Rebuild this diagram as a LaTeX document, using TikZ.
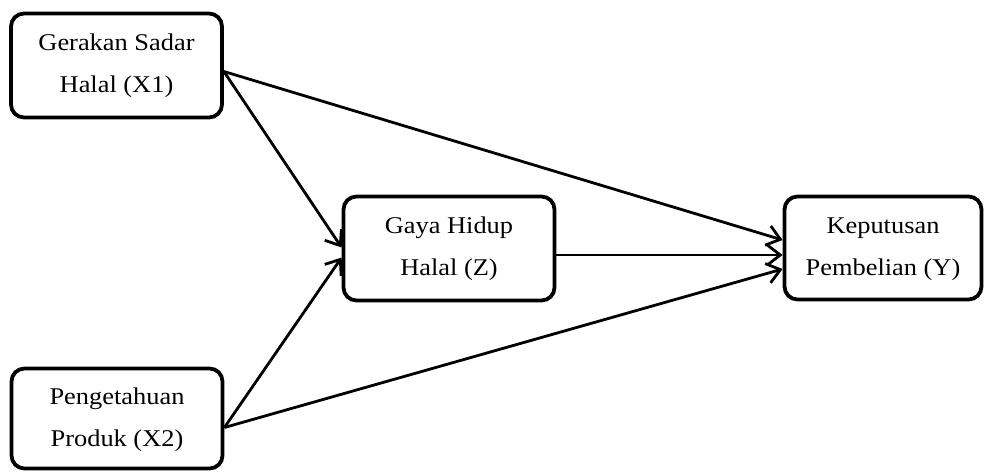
\documentclass[tikz,border=0pt]{standalone}
\usepackage{fontspec}
\setmainfont{Liberation Serif}[FakeStretch=1.1]
\usetikzlibrary{arrows.meta}
\tikzset{
  box/.style={draw, line width=3.8pt, rounded corners=13pt, inner sep=0pt},
  lbl/.style={align=center, font=\fontsize{24}{42}\selectfont, inner sep=0pt},
  conn/.style={line width=2.8pt, -{Straight Barb[length=13pt,width=20pt,line width=2.8pt]}}
}
\begin{document}
\begin{tikzpicture}[x=1pt,y=-1pt]
\useasboundingbox (0,0) rectangle (987,472);
\node[box, minimum width=211pt, minimum height=104pt] (x1) at (116.5,65.5) {};
\node[box, minimum width=211pt, minimum height=104pt] (z) at (449,248.5) {};
\node[box, minimum width=197pt, minimum height=103pt] (y) at (883,248) {};
\node[box, minimum width=211pt, minimum height=100pt] (x2) at (117,418.5) {};
\node[lbl] (tx1) at (116.5,66) {Gerakan Sadar\\Halal (X1)};
\node[lbl] (tz) at (449,249) {Gaya Hidup\\Halal (Z)};
\node[lbl] (ty) at (883,249) {Keputusan\\Pembelian (Y)};
\node[lbl] (tx2) at (117,420) {Pengetahuan\\Produk (X2)};
\coordinate (a1) at ([yshift=-6pt]x1.east);
\coordinate (a2) at ([yshift=-9pt]x2.east);
\draw[conn] (a1) -- ([yshift=8pt]y.west);
\draw[conn] (a1) -- ([yshift=1pt]z.west);
\draw[conn] (a2) -- ([yshift=-9pt]z.west);
\draw[conn] (a2) -- ([yshift=-21pt]y.west);
\draw[conn] ([yshift=-6.5pt]z.east) -- ([yshift=-7pt]y.west);
\end{tikzpicture}
\end{document}
